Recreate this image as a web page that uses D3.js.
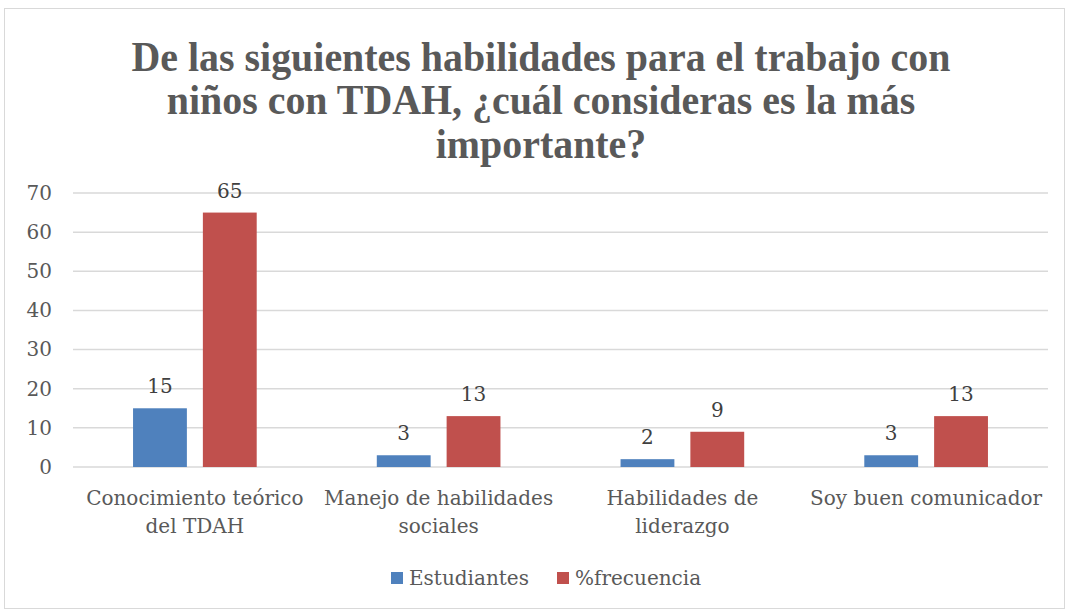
<!DOCTYPE html>
<html lang="es">
<head>
  <meta charset="utf-8">
  <script src="https://d3js.org/d3.v7.min.js"></script>
  <style>
    body {
      margin: 0;
      background: #fff;
      font-family: "DejaVu Serif", serif;
    }
  </style>
</head>
<body>
<div id="chart"></div>
<script>
  var categories = [["Conocimiento teórico", "del TDAH"], ["Manejo de habilidades", "sociales"], ["Habilidades de", "liderazgo"], ["Soy buen comunicador"]];
  var seriesNames = ["Estudiantes", "%frecuencia"];
  var estudiantes = [15, 3, 2, 3];
  var frecuencia = [65, 13, 9, 13];
  var yTicks = [0, 10, 20, 30, 40, 50, 60, 70];
  var titleLines = ["De las siguientes habilidades para el trabajo con", "niños con TDAH, ¿cuál consideras es la más", "importante?"];

  var colors = ["#4f81bd", "#c0504d"];
  var W = 1068, H = 612;
  var margin = {top: 193, right: 20, bottom: 145, left: 73};
  var width = W - margin.left - margin.right,
      height = H - margin.top - margin.bottom;

  var svg = d3.select("#chart").append("svg")
      .attr("width", W)
      .attr("height", H);

  // chart frame
  svg.append("rect")
      .attr("x", 4.5).attr("y", 8.5)
      .attr("width", W - 8).attr("height", H - 12)
      .attr("fill", "#fff")
      .attr("stroke", "#d9d9d9");

  // title (squeezed a little to look like the condensed original)
  svg.append("g")
      .attr("transform", "translate(541,0) scale(0.95,1)")
    .append("text")
      .attr("text-anchor", "middle")
      .style("font", "bold 42px 'Liberation Serif', serif")
      .style("fill", "#595959")
      .selectAll("tspan")
      .data(titleLines).enter()
      .append("tspan")
      .attr("x", 0)
      .attr("y", function(d, i) { return 71 + i * 43.5; })
      .text(function(d) { return d; });

  var g = svg.append("g")
      .attr("transform", "translate(" + margin.left + "," + margin.top + ")");

  var x0 = d3.scaleBand().domain(d3.range(categories.length)).range([0, width]);
  var x1 = d3.scaleBand().domain(seriesNames).range([0, x0.bandwidth()]).paddingInner(0.229).paddingOuter(0.86);
  var y = d3.scaleLinear().domain([0, 70]).range([height, 0]);

  // grid
  g.selectAll(".grid")
      .data(yTicks).enter()
      .append("line")
      .attr("x1", 0).attr("x2", width)
      .attr("y1", function(d) { return y(d); })
      .attr("y2", function(d) { return y(d); })
      .attr("stroke", "#d9d9d9")
      .attr("stroke-width", 1.5);

  var yAxis = g.append("g")
      .call(d3.axisLeft(y).tickValues(yTicks).tickSize(0).tickPadding(21));
  yAxis.select(".domain").remove();
  yAxis.selectAll("text")
      .style("font", "20px 'DejaVu Serif', serif")
      .style("fill", "#595959");

  var series = [estudiantes, frecuencia];

  series.forEach(function(vals, s) {
    g.selectAll(".bar" + s)
        .data(vals).enter()
        .append("rect")
        .attr("x", function(d, i) { return x0(i) + x1(seriesNames[s]); })
        .attr("y", function(d) { return y(d); })
        .attr("width", x1.bandwidth())
        .attr("height", function(d) { return height - y(d); })
        .attr("fill", colors[s]);

    g.selectAll(".lbl" + s)
        .data(vals).enter()
        .append("text")
        .attr("x", function(d, i) { return x0(i) + x1(seriesNames[s]) + x1.bandwidth() / 2; })
        .attr("y", function(d) { return y(d) - 15; })
        .attr("text-anchor", "middle")
        .style("font", "20px 'DejaVu Serif', serif")
        .style("fill", "#404040")
        .text(function(d) { return d; });
  });

  // category labels
  var cat = g.selectAll(".cat")
      .data(categories).enter()
      .append("text")
      .attr("text-anchor", "middle")
      .style("font", "20px 'DejaVu Serif', serif")
      .style("fill", "#595959");
  cat.selectAll("tspan")
      .data(function(d, i) { return d.map(function(t) { return {t: t, i: i}; }); })
      .enter().append("tspan")
      .attr("x", function(d) { return x0(d.i) + x0.bandwidth() / 2; })
      .attr("y", function(d, j) { return height + 38 + j * 28; })
      .text(function(d) { return d.t; });

  // legend
  var legendX = [391, 557];
  var legend = svg.selectAll(".legend")
      .data(seriesNames).enter()
      .append("g")
      .attr("transform", function(d, i) { return "translate(" + legendX[i] + ",572)"; });
  legend.append("rect")
      .attr("width", 12).attr("height", 12)
      .attr("fill", function(d, i) { return colors[i]; });
  legend.append("text")
      .attr("x", 18).attr("y", 13)
      .style("font", "20px 'DejaVu Serif', serif")
      .style("fill", "#595959")
      .text(function(d) { return d; });
</script>
</body>
</html>
